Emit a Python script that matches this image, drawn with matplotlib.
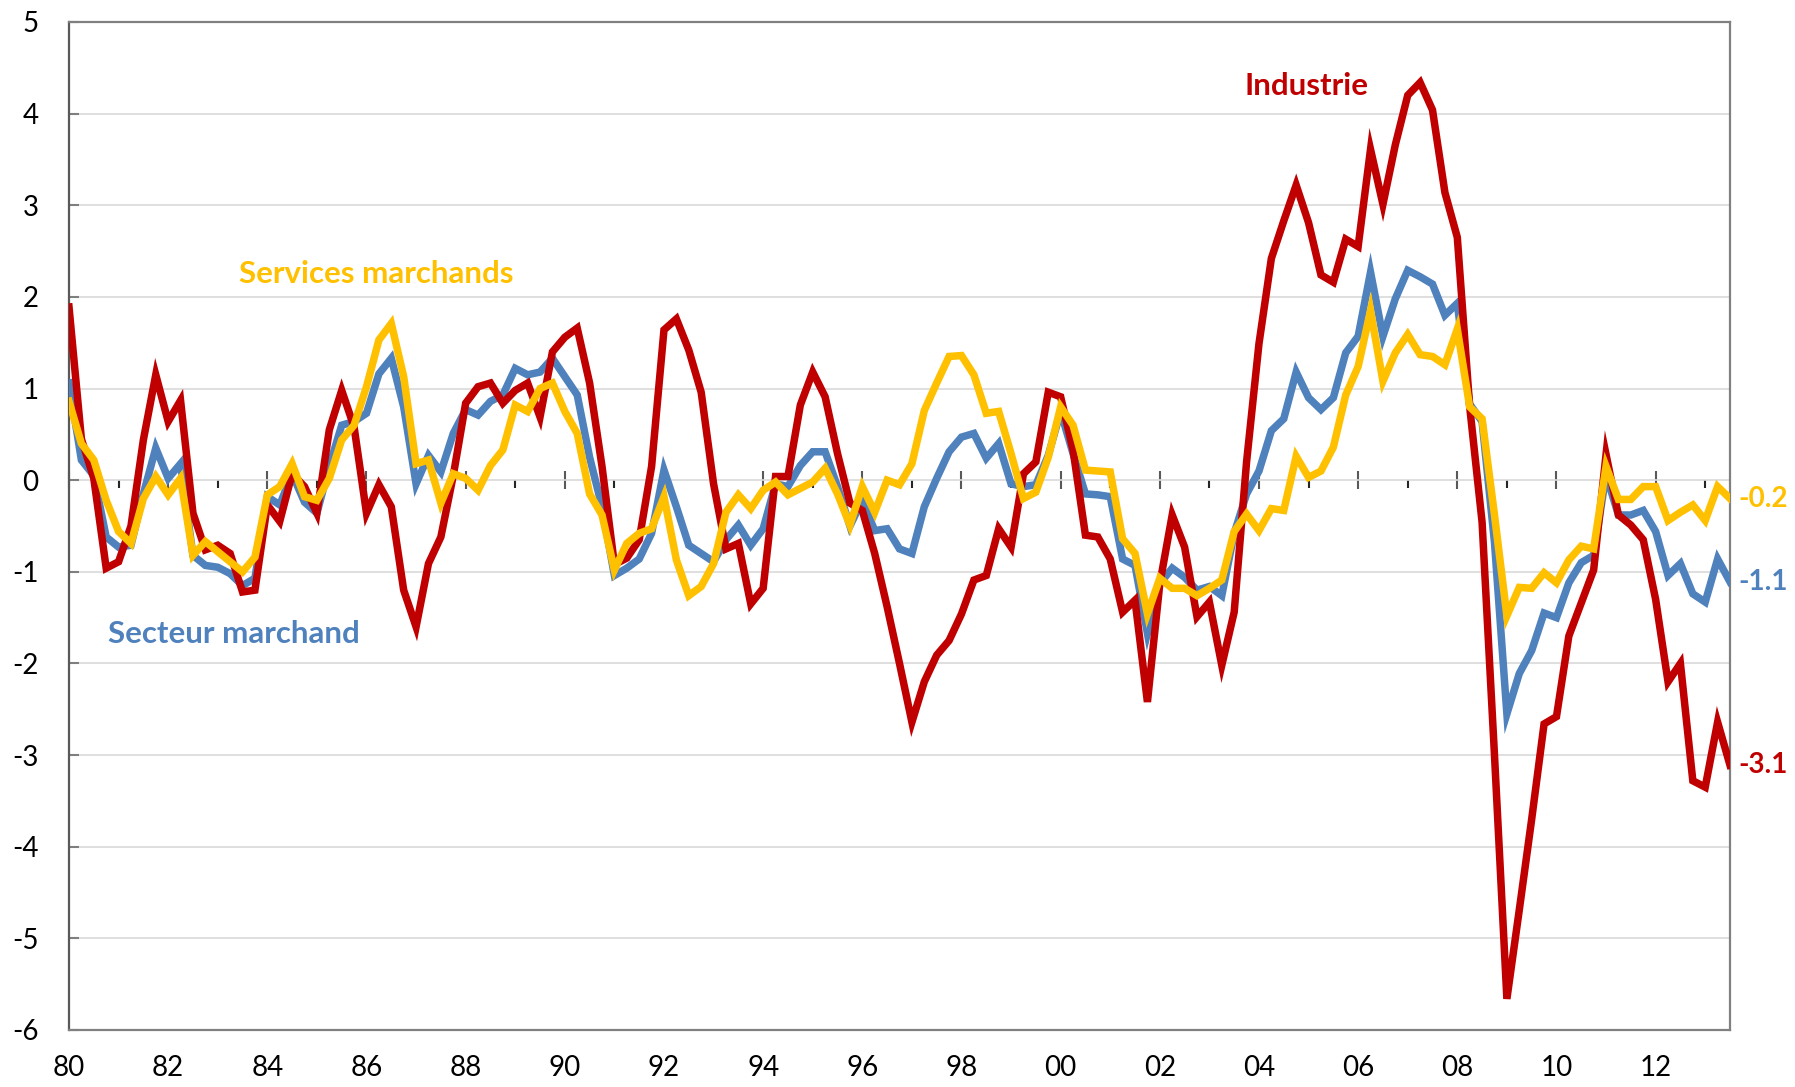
import numpy as np
import matplotlib
matplotlib.use('Agg')
import matplotlib.pyplot as plt

plt.rcParams['font.family'] = ['Lato', 'DejaVu Sans']
plt.rcParams['axes.unicode_minus'] = False

# quarterly data, 1980Q1 .. 2013Q3
industrie = [
    1.89, 0.45, 0.02, -0.96, -0.89, -0.50, 0.44, 1.15, 0.64, 0.87,
    -0.36, -0.76, -0.71, -0.80, -1.22, -1.20, -0.27, -0.45, 0.07, -0.07,
    -0.36, 0.55, 0.98, 0.58, -0.36, -0.05, -0.29, -1.20, -1.60, -0.91,
    -0.62, 0.05, 0.84, 1.02, 1.06, 0.84, 0.98, 1.06, 0.69, 1.40,
    1.56, 1.66, 1.06, 0.15, -0.92, -0.85, -0.65, 0.15, 1.64, 1.76,
    1.42, 0.96, -0.04, -0.75, -0.69, -1.35, -1.18, 0.04, 0.04, 0.82,
    1.18, 0.91, 0.29, -0.25, -0.33, -0.80, -1.38, -2.00, -2.64, -2.20,
    -1.91, -1.75, -1.46, -1.09, -1.04, -0.53, -0.73, 0.07, 0.20, 0.96,
    0.91, 0.33, -0.60, -0.62, -0.86, -1.44, -1.31, -2.42, -1.13, -0.38,
    -0.73, -1.49, -1.33, -2.02, -1.44, 0.20, 1.49, 2.42, 2.83, 3.22,
    2.81, 2.24, 2.16, 2.63, 2.55, 3.61, 3.01, 3.66, 4.20, 4.34,
    4.04, 3.14, 2.65, 0.80, -0.46, -3.00, -5.66, -4.69, -3.70, -2.66,
    -2.58, -1.70, -1.34, -0.98, 0.28, -0.38, -0.49, -0.65, -1.30, -2.20,
    -2.00, -3.28, -3.35, -2.64, -3.11,
]
secteur = [
    1.06, 0.22, 0.05, -0.62, -0.73, -0.71, -0.15, 0.35, 0.02, 0.18,
    -0.82, -0.93, -0.95, -1.02, -1.15, -1.07, -0.18, -0.27, 0.07, -0.24,
    -0.36, 0.15, 0.60, 0.64, 0.73, 1.16, 1.33, 0.80, -0.04, 0.27,
    0.09, 0.51, 0.77, 0.71, 0.86, 0.93, 1.22, 1.15, 1.18, 1.33,
    1.13, 0.93, 0.25, -0.29, -1.04, -0.96, -0.86, -0.58, 0.11, -0.29,
    -0.71, -0.80, -0.89, -0.65, -0.49, -0.71, -0.53, -0.04, -0.07, 0.16,
    0.31, 0.31, -0.07, -0.50, -0.22, -0.55, -0.53, -0.75, -0.80, -0.29,
    0.02, 0.31, 0.47, 0.51, 0.24, 0.40, -0.04, -0.07, -0.05, 0.27,
    0.75, 0.29, -0.15, -0.16, -0.18, -0.86, -0.93, -1.67, -1.13, -0.96,
    -1.06, -1.20, -1.16, -1.26, -0.58, -0.15, 0.10, 0.54, 0.67, 1.18,
    0.90, 0.77, 0.90, 1.39, 1.57, 2.27, 1.57, 1.98, 2.29, 2.22,
    2.14, 1.80, 1.93, 0.83, 0.64, -0.68, -2.55, -2.11, -1.86, -1.45,
    -1.50, -1.12, -0.90, -0.82, 0.06, -0.38, -0.38, -0.33, -0.56, -1.04,
    -0.91, -1.24, -1.33, -0.86, -1.11,
]
services = [
    0.86, 0.40, 0.22, -0.22, -0.56, -0.69, -0.20, 0.04, -0.16, 0.02,
    -0.82, -0.67, -0.78, -0.89, -1.00, -0.84, -0.16, -0.07, 0.18, -0.18,
    -0.22, 0.02, 0.44, 0.60, 1.02, 1.53, 1.71, 1.13, 0.18, 0.22,
    -0.25, 0.07, 0.02, -0.11, 0.16, 0.33, 0.82, 0.75, 1.00, 1.06,
    0.75, 0.51, -0.15, -0.38, -0.98, -0.69, -0.58, -0.53, -0.18, -0.87,
    -1.26, -1.16, -0.91, -0.35, -0.16, -0.31, -0.11, -0.02, -0.16, -0.09,
    -0.02, 0.13, -0.15, -0.49, -0.07, -0.35, 0.00, -0.05, 0.18, 0.76,
    1.06, 1.35, 1.36, 1.15, 0.73, 0.75, 0.29, -0.20, -0.13, 0.25,
    0.80, 0.60, 0.11, 0.10, 0.09, -0.64, -0.80, -1.46, -1.07, -1.18,
    -1.18, -1.26, -1.18, -1.09, -0.56, -0.37, -0.55, -0.31, -0.33, 0.26,
    0.03, 0.10, 0.36, 0.93, 1.24, 1.85, 1.08, 1.39, 1.59, 1.37,
    1.35, 1.26, 1.65, 0.80, 0.67, -0.38, -1.48, -1.17, -1.18, -1.01,
    -1.12, -0.87, -0.72, -0.75, 0.15, -0.21, -0.21, -0.07, -0.07, -0.44,
    -0.35, -0.27, -0.44, -0.07, -0.20,
]
year_labels = ['80', '82', '84', '86', '88', '90', '92', '94', '96', '98',
               '00', '02', '04', '06', '08', '10', '12']

RED = '#C00000'
BLUE = '#4F81BD'
YELLOW = '#FFC000'

x = np.arange(len(industrie))
last = len(industrie) - 1

fig = plt.figure(figsize=(17.95, 10.87), dpi=100)
ax = fig.add_axes([69 / 1795, 1 - 1030 / 1087, (1730 - 69) / 1795, (1030 - 22) / 1087])

ax.plot(x, secteur, color=BLUE, lw=5.4, solid_joinstyle='miter', zorder=3)
ax.plot(x, industrie, color=RED, lw=5.4, solid_joinstyle='miter', zorder=4)
ax.plot(x, services, color=YELLOW, lw=5.4, solid_joinstyle='miter', zorder=5)

ax.set_xlim(0, last)
ax.set_ylim(-6, 5)
ax.set_yticks(range(-6, 6))
ax.yaxis.grid(True, color='#D9D9D9', lw=1.2)
ax.set_axisbelow(True)
ax.tick_params(axis='y', direction='in', length=7, width=1.5, color='#7F7F7F',
               labelsize=20, pad=22)

# year labels at the bottom, tick marks on the zero line
ax.set_xticks(range(0, last + 1, 8))
ax.set_xticklabels(year_labels)
ax.tick_params(axis='x', length=0, labelsize=20, pad=18)

zero = ax.secondary_xaxis(6 / 11)
zero.set_xticks(range(0, last + 1, 8))
zero.set_xticks([t for t in range(0, last + 1, 4) if t % 8], minor=True)
zero.xaxis.set_ticks_position('bottom')
zero.spines['top'].set_visible(False)
zero.spines['bottom'].set_color('black')
zero.spines['bottom'].set_linewidth(1.5)
zero.tick_params(which='major', bottom=True, direction='inout', length=13,
                 width=1.5, color='#595959')
zero.tick_params(which='minor', bottom=True, direction='out', length=6,
                 width=1.5, color='#262626')
zero.set_xticklabels([])

for s in ax.spines.values():
    s.set_color('#808080')
    s.set_linewidth(1.6)
ax.spines['left'].set_color('#595959')

# series names
ax.text(99.8, 4.3, 'Industrie', color=RED, fontsize=22.5, fontweight='bold',
        ha='center', va='center')
ax.text(24.8, 2.25, 'Services marchands', color=YELLOW, fontsize=22.5,
        fontweight='bold', ha='center', va='center')
ax.text(13.3, -1.68, 'Secteur marchand', color=BLUE, fontsize=22.5,
        fontweight='bold', ha='center', va='center')

# last values
for serie, col in [(services, YELLOW), (secteur, BLUE), (industrie, RED)]:
    ax.annotate(f'{serie[-1]:.1f}', xy=(last, serie[-1]), xytext=(6, 0),
                textcoords='offset points', ha='left', va='center',
                color=col, fontsize=20, fontweight='bold', annotation_clip=False)

fig.savefig('out.png', dpi=100)
